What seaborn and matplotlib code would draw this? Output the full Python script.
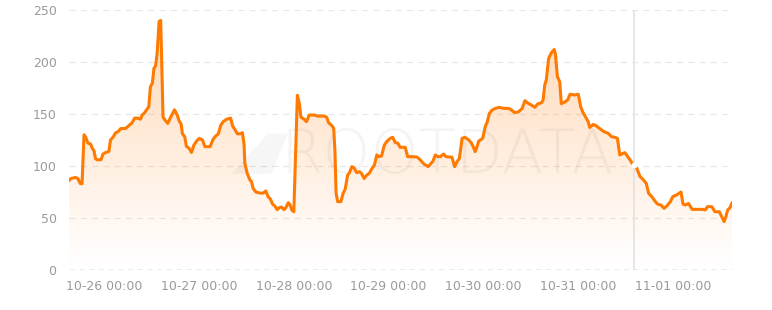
import numpy as np
import pandas as pd
import matplotlib
matplotlib.use("Agg")
import matplotlib.pyplot as plt
import seaborn as sns
from matplotlib.patches import Polygon

# ---- data (hours since 10-26 00:00, value) ----
hours = [-8.9, -8.4, -7.2, -6.7, -6.0, -5.6, -5.1, -4.7, -4.1, -3.4, -3.0, -2.6, -2.2, -1.8, -0.8,
         -0.3, 0.4, 1.2, 1.6, 2.3, 2.9, 3.5, 4.2, 5.4, 6.3, 7.1, 7.7, 8.5, 9.2, 9.6, 10.2, 10.9,
         11.3, 11.7, 12.2, 12.6, 13.0, 13.4, 13.9, 14.3, 14.4, 14.9, 15.5, 16.1, 16.8, 17.8, 18.5,
         18.9, 19.5, 19.8, 20.4, 20.8, 21.5, 22.1, 22.7, 23.4, 24.1, 24.9, 25.5, 26.8, 27.5, 28.0,
         28.9, 29.5, 30.1, 31.0, 32.0, 32.5, 33.1, 33.7, 34.4, 35.0, 35.4, 35.6, 36.2, 36.9, 37.3,
         37.7, 38.4, 39.4, 40.3, 40.9, 41.5, 42.1, 42.6, 43.2, 43.8, 44.3, 44.9, 45.5, 46.0, 46.6,
         47.0, 47.5, 48.0, 48.9, 49.4, 49.8, 50.6, 51.2, 51.9, 53.2, 54.0, 55.7, 56.3, 56.8, 57.7,
         58.1, 58.4, 58.7, 59.1, 59.9, 60.5, 61.0, 61.6, 62.0, 62.7, 63.3, 63.9, 64.6, 65.1, 65.8,
         66.4, 67.1, 67.8, 68.4, 69.0, 69.6, 70.2, 70.9, 71.5, 72.4, 73.0, 73.7, 74.3, 74.9, 75.6,
         76.2, 76.8, 77.9, 79.2, 80.0, 80.9, 82.0, 82.6, 83.2, 83.8, 84.5, 85.1, 85.9, 86.5, 87.4,
         88.0, 88.7, 89.3, 89.9, 90.6, 91.3, 92.1, 92.9, 93.4, 93.9, 94.4, 94.8, 95.8, 96.5, 96.9,
         97.5, 98.2, 99.0, 100.0, 101.1, 102.4, 103.1, 103.9, 104.9, 105.8, 106.5, 107.3, 108.1,
         109.0, 109.7, 110.7, 111.1, 111.5, 111.9, 112.5, 113.2, 113.9, 114.2, 114.7, 115.3, 115.7,
         116.6, 117.3, 117.9, 119.1, 120.0, 120.6, 121.2, 121.8, 122.5, 122.9, 123.8, 124.6, 125.4,
         126.5, 127.6, 128.4, 129.2, 129.9, 130.5, 131.2, 131.8, 132.5, 133.1, 133.9, 134.8, 135.6,
         136.5, 137.2, 137.8, 138.6, 139.2, 140.0, 140.9, 141.7, 142.4, 143.3, 143.9, 144.8, 145.6,
         146.0, 146.5, 147.1, 147.9, 148.8, 150.0, 151.5, 152.1, 152.7, 153.8, 154.6, 155.7, 156.3,
         156.9, 157.4, 157.8, 158.4, 158.9]
values = [86, 88, 89, 88, 83, 83, 130, 128, 122, 121, 117, 115, 107, 106, 106,
          111.5, 113, 114, 125, 128, 132, 133, 136, 136, 139, 141.7, 146, 146, 145, 149, 151, 155,
          157, 176, 179.5, 194, 196, 208, 239, 240, 226, 147, 143.6, 141, 146.8, 154, 149,
          144, 140, 131, 128, 119, 117, 113, 120, 124, 126.6, 125, 118.6, 118.6, 125, 128,
          131, 139, 142.6, 145, 146, 138.5, 135, 131, 131, 132, 121, 102.6, 93, 86.5, 85,
          78.5, 75, 74, 74, 76, 70.5, 68, 63.5, 61.5, 58, 60, 60.5, 58, 60, 64.7,
          63, 57.7, 56, 168, 160, 147, 145, 142.6, 149, 149, 148, 148, 147, 141.7, 138.5,
          136, 115, 74, 65.7, 65.7, 74, 77.6, 91, 93, 99.4, 98, 93.6, 94.5, 93, 88,
          91, 93, 97.8, 100.9, 110.6, 109, 109.6, 120, 123.4, 126.6, 127.6, 122.5, 122, 118, 118,
          118, 109, 109, 108.6, 105.8, 102, 99.4, 102, 104.5, 110.6, 109, 109, 111.5, 109, 108.6,
          108.6, 99.4, 104, 107.4, 126.6, 127.6, 125.6, 122.4, 118.6, 113.8, 119, 124, 126.6, 138.5, 141.7,
          150.6, 153.8, 155.4, 156.4, 155.4, 155.4, 153.8, 151.3, 152.2, 155.4, 162.8, 160.3, 158.7,
          156.4, 159.6, 160.9, 163.5, 177.9, 182.7, 203.5, 209, 212, 208, 186, 181, 160,
          161.6, 163.5, 169, 168.3, 169, 157, 151.3, 147.4, 142.6, 137, 140, 138.5, 136,
          133, 131.4, 128.2, 127.6, 126.6, 110.6, 112, 112.8, 109, 105.8, 101, 97.8, 90,
          86.5, 83.3, 73.7, 70.5, 67.3, 63.5, 62.5, 59.3, 61.5, 65.7, 70.5, 72, 74,
          75, 63.5, 62.5, 64, 58.3, 58.3, 58.3, 57.7, 60.9, 60.9, 56, 56, 51.3,
          46.5, 51.9, 57.7, 60, 64.7]
tick_labels = ["10-26 00:00", "10-27 00:00", "10-28 00:00", "10-29 00:00",
               "10-30 00:00", "10-31 00:00", "11-01 00:00"]
y_ticks = [0, 50, 100, 150, 200, 250]
cursor_label = "10-31 14:00"

base = pd.Timestamp("2024-10-26 00:00")
df = pd.DataFrame({"time": base + pd.to_timedelta(hours, unit="h"), "value": values})
tick_times = [pd.Timestamp("2024-" + t) for t in tick_labels]
cursor_time = pd.Timestamp("2024-" + cursor_label)

sns.set_theme(style="white")
plt.rcParams["font.family"] = ["DejaVu Sans"]

LINE = "#ff7a00"
fig = plt.figure(figsize=(7.72, 3.10), dpi=100)
ax = fig.add_axes([69 / 772, 1 - 270 / 310, (732 - 69) / 772, 260 / 310])

# gridlines
for yv in y_ticks[1:]:
    ax.axhline(yv, color="#e8e8e8", lw=0.9, ls=(0, (5, 4)), zorder=0)
ax.axhline(0, color="#a8a8a8", lw=1.0, ls=(0, (4, 3)), zorder=3)

# watermark
ax.text(0.57, 0.435, "ROOTDATA", transform=ax.transAxes, ha="center", va="center",
        fontsize=44, color="#000000", alpha=0.045, fontweight="light", zorder=2.5)
tri = Polygon([[0.245, 0.37], [0.300, 0.525], [0.330, 0.525], [0.305, 0.37]], closed=True,
              transform=ax.transAxes, facecolor="#000000", alpha=0.035,
              edgecolor="none", zorder=2.5)
ax.add_patch(tri)

# gradient fill under the line
xnum = matplotlib.dates.date2num(df["time"])
ymax = 250
grad = np.linspace(0, 1, 256).reshape(-1, 1)
cmap = matplotlib.colors.LinearSegmentedColormap.from_list(
    "g", [(1, 0.478, 0, 0.0), (1, 0.478, 0, 0.30)])
im = ax.imshow(grad, extent=[xnum[0], xnum[-1], 0, ymax], origin="lower",
               aspect="auto", cmap=cmap, zorder=2)
poly_x = np.concatenate([[xnum[0]], xnum, [xnum[-1]]])
poly_y = np.concatenate([[0], df["value"].values, [0]])
clip = Polygon(np.column_stack([poly_x, poly_y]), closed=True, transform=ax.transData,
               facecolor="none", edgecolor="none")
ax.add_patch(clip)
im.set_clip_path(clip)

sns.lineplot(data=df, x="time", y="value", ax=ax, color=LINE, lw=2.2, zorder=4)

# cursor line and hovered point
ax.axvline(cursor_time, color="#e2e2e2", lw=1.2, zorder=3)
cv = np.interp(matplotlib.dates.date2num(cursor_time), xnum, df["value"].values)
ax.plot([cursor_time], [cv], marker="o", ms=3.2, color="white", zorder=5)

ax.set_xlim(df["time"].iloc[0], df["time"].iloc[-1])
ax.set_ylim(0, 250)
ax.set_yticks(y_ticks)
ax.set_yticklabels([str(v) for v in y_ticks], color="#9a9a9a", fontsize=9)
ax.set_xticks(tick_times)
ax.set_xticklabels(tick_labels, color="#9a9a9a", fontsize=9)
ax.tick_params(axis="both", length=0, pad=7)
ax.tick_params(axis="y", pad=9)
ax.set_xlabel("")
ax.set_ylabel("")
for s in ax.spines.values():
    s.set_visible(False)

fig.savefig("out.png", dpi=100)
